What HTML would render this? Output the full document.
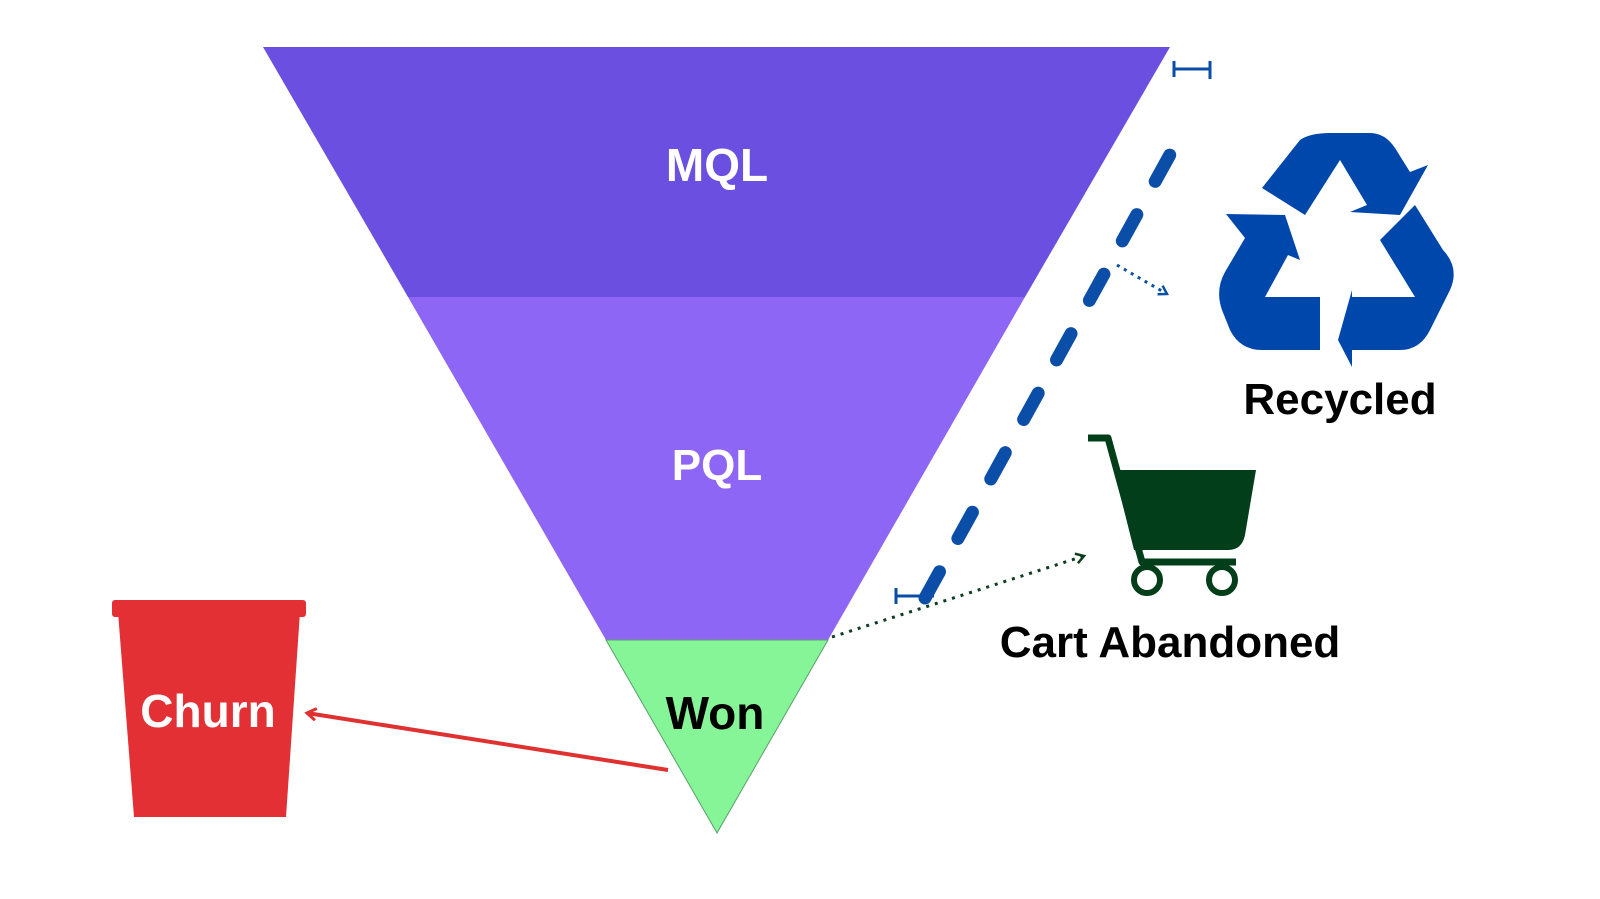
<!DOCTYPE html>
<html><head><meta charset="utf-8"><style>
html,body{margin:0;padding:0;background:#fff;}
svg{display:block;}
text{font-family:"Liberation Sans","DejaVu Sans",sans-serif;font-weight:bold;}
</style></head><body>
<svg width="1600" height="899" viewBox="0 0 1600 899" xmlns="http://www.w3.org/2000/svg">
<defs>
<marker id="ar" markerWidth="14" markerHeight="14" refX="11" refY="7" orient="auto" markerUnits="userSpaceOnUse">
<path d="M2,1 L11,7 L2,13" fill="none" stroke="#e03131" stroke-width="3"/></marker>
<marker id="ag" markerWidth="12" markerHeight="12" refX="10" refY="6" orient="auto" markerUnits="userSpaceOnUse">
<path d="M2,1 L10,6 L2,11" fill="none" stroke="#0b3d1e" stroke-width="2.5"/></marker>
<marker id="ab" markerWidth="12" markerHeight="12" refX="10" refY="6" orient="auto" markerUnits="userSpaceOnUse">
<path d="M2,1 L10,6 L2,11" fill="none" stroke="#0b4ea8" stroke-width="2.5"/></marker>
</defs>
<polygon points="263,47 1170,47 1025,297 408,297" fill="#6b4fe0"/>
<polygon points="408,297 1025,297 828,640 606,640" fill="#8e66f5"/>
<polygon points="606,640 828,640 717,833" fill="#86f598" stroke="#5aa06a" stroke-width="1"/>
<text x="717" y="181" font-size="46" fill="#fff" text-anchor="middle">MQL</text>
<text x="717" y="480" font-size="44" fill="#fff" text-anchor="middle">PQL</text>
<text x="715" y="729" font-size="46" fill="#000" text-anchor="middle">Won</text>
<line x1="925" y1="598" x2="1188" y2="122" stroke="#0b4ea8" stroke-width="13" stroke-linecap="round" stroke-dasharray="30,38"/>
<line x1="1174" y1="69" x2="1210" y2="69" stroke="#0b4ea8" stroke-width="3"/>
<line x1="1174" y1="61" x2="1174" y2="77" stroke="#0b4ea8" stroke-width="3"/>
<line x1="1210" y1="61" x2="1210" y2="79" stroke="#0b4ea8" stroke-width="3"/>
<line x1="896" y1="596" x2="934" y2="596" stroke="#0b4ea8" stroke-width="3"/>
<line x1="896" y1="588" x2="896" y2="604" stroke="#0b4ea8" stroke-width="3"/>
<line x1="1117" y1="265" x2="1167" y2="294" stroke="#0b4ea8" stroke-width="3" stroke-dasharray="3,5" marker-end="url(#ab)"/>
<line x1="832" y1="637" x2="1084" y2="556" stroke="#0b3d1e" stroke-width="3" stroke-dasharray="3,6" marker-end="url(#ag)"/>
<g fill="#0047ab">
<path d="M1262,188 L1300,140 Q1310,133 1330,133 L1370,133 Q1385,133 1395,148 L1410,172 L1428,165 L1400,215 L1350,212 L1367,205 L1340,160 L1305,215 Z"/>
<path d="M1415,205 L1443,250 Q1460,268 1450,290 L1430,330 Q1420,350 1400,350 L1352,350 L1352,367 L1338,340 L1352,290 L1352,297 L1415,297 L1380,240 Z"/>
<path d="M1320,350 L1262,350 Q1240,350 1230,330 L1222,310 Q1215,290 1225,272 L1245,238 L1226,214 L1285,215 L1300,260 L1288,255 L1265,297 L1320,297 Z"/>
</g>
<text x="1340" y="414" font-size="44" fill="#000" text-anchor="middle">Recycled</text>
<g>
<polyline points="1088,438 1108,438 1142,562 1236,562" fill="none" stroke="#033e1a" stroke-width="7" stroke-linejoin="round"/>
<path d="M1114,470 L1256,470 L1245,535 Q1242,550 1228,550 L1134,550 Z" fill="#033e1a"/>
<circle cx="1147" cy="580" r="13" fill="none" stroke="#033e1a" stroke-width="6"/>
<circle cx="1222" cy="580" r="13" fill="none" stroke="#033e1a" stroke-width="6"/>
</g>
<text x="1170" y="657" font-size="44" fill="#000" text-anchor="middle">Cart Abandoned</text>
<rect x="112" y="600" width="194" height="17" rx="3" fill="#e33035"/>
<polygon points="118,612 300,612 286,817 134,817" fill="#e33035"/>
<text x="208" y="727" font-size="46" fill="#fff" text-anchor="middle">Churn</text>
<line x1="668" y1="770" x2="307" y2="713" stroke="#e03131" stroke-width="4" marker-end="url(#ar)"/>
</svg>
</body></html>
